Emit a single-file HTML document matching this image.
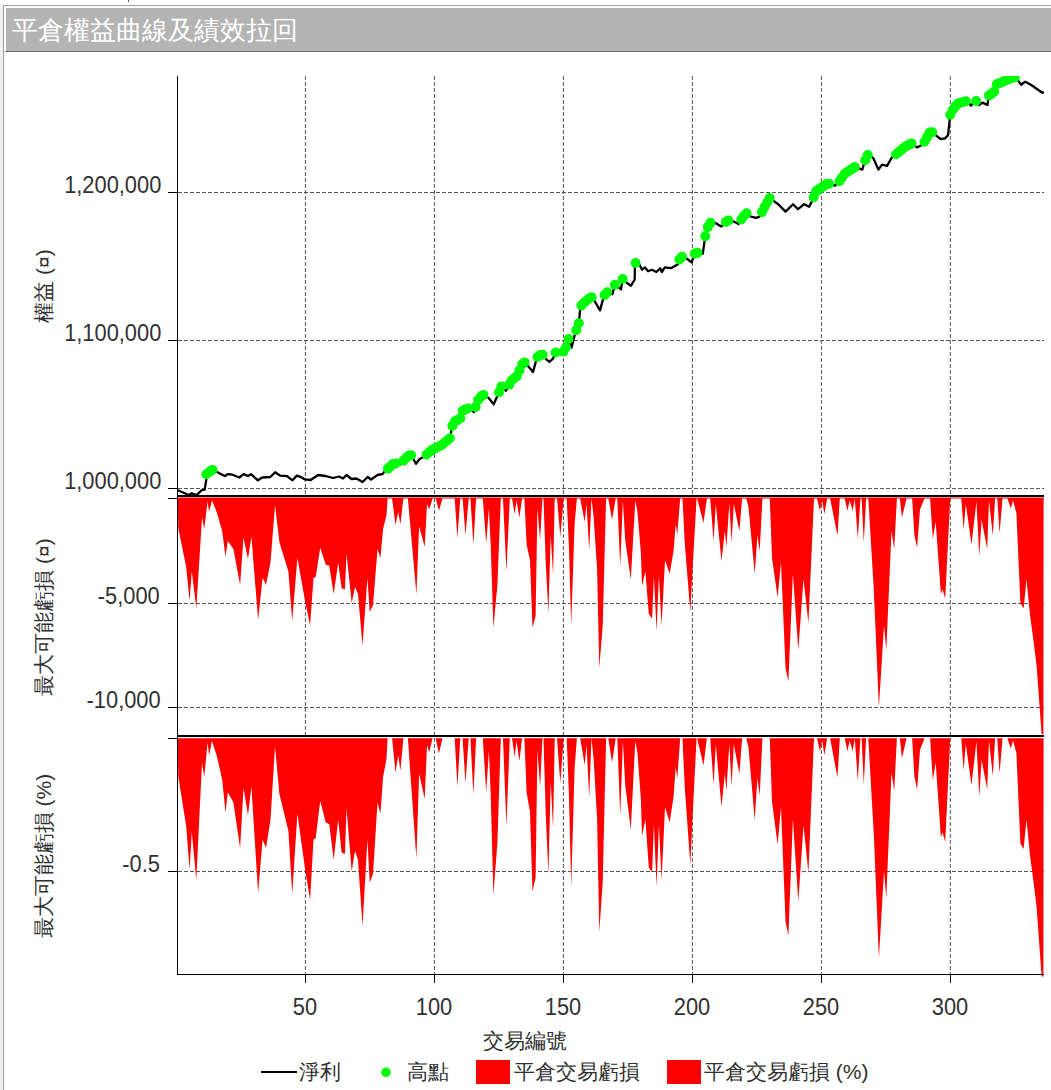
<!DOCTYPE html>
<html><head><meta charset="utf-8">
<style>
html,body{margin:0;padding:0;background:#fff;}
body{width:1051px;height:1090px;overflow:hidden;position:relative;font-family:"Liberation Sans", sans-serif;color:#303030;}
.t{position:absolute;white-space:nowrap;line-height:1;}
.num{transform:scale(1.04,1.12);transform-origin:50% 80%;}
</style></head><body>
<svg width="1051" height="1090" viewBox="0 0 1051 1090" style="position:absolute;left:0;top:0" shape-rendering="auto">
<rect x="0" y="4" width="3" height="1086" fill="#f0f0f0"/>
<rect x="3" y="5" width="1048" height="1" fill="#a0a0a0"/>
<rect x="3" y="5" width="1" height="1085" fill="#a0a0a0"/>
<rect x="6" y="8" width="1045" height="43" fill="#b4b4b4"/>
<rect x="5" y="51" width="1046" height="1" fill="#666"/>
<rect x="128" y="0" width="1" height="2" fill="#555"/>
<g stroke="#555" stroke-width="1" stroke-dasharray="4 2" fill="none">
<path d="M305.4,76V495 M305.4,498V735 M305.4,738V974"/>
<path d="M434.4,76V495 M434.4,498V735 M434.4,738V974"/>
<path d="M563.4,76V495 M563.4,498V735 M563.4,738V974"/>
<path d="M692.4,76V495 M692.4,498V735 M692.4,738V974"/>
<path d="M821.4,76V495 M821.4,498V735 M821.4,738V974"/>
<path d="M950.3,76V495 M950.3,498V735 M950.3,738V974"/>
<path d="M178,192.5H1044"/>
<path d="M178,340.5H1044"/>
<path d="M178,488.5H1044"/>
<path d="M178,603.5H1044 M178,707.5H1044 M178,871.5H1044"/>
</g>
<path d="M177.5,497.5 L177.5,498.4 L178.4,528.7 L186.2,566.9 L189.6,600.6 L191.8,571.4 L196.3,608.4 L202,517.5 L204.2,528.7 L207.6,501.7 L209.1,511.8 L212,500.6 L216.6,511.8 L222.2,530.9 L225.5,556.8 L227.8,541 L233.4,548.9 L240.1,584.8 L243.5,537.7 L248,559 L251.4,536.6 L258.1,619.7 L262.6,578.1 L266,584.8 L270.5,562.4 L275,505.1 L279.4,542.2 L288.4,571.4 L292.2,620.8 L297.4,557.9 L305.4,603 L310.1,625.3 L313.5,578.1 L315.7,577 L320.2,547.8 L325.8,564.7 L329.2,565.8 L333.7,593.9 L338.2,562.4 L341.6,588.3 L344.9,589.4 L346.5,553.4 L351.7,602.9 L355,587.1 L358,593.9 L362.5,645.6 L367.4,578.1 L369.7,611.9 L373,605.1 L377.5,548.9 L380.4,557.9 L383.1,528.7 L386.5,515.2 L387.6,498.4 L392.1,498.4 L395.5,525.3 L398.2,511.9 L400.4,524.2 L403.4,498.4 L407.9,498.4 L416.4,593.9 L419.1,526.5 L424.7,546.7 L427,504 L429.2,509.6 L432.6,498.4 L435.6,498.4 L439,510.7 L442.4,498.4 L454.7,498.4 L457.4,537.7 L460.3,498.4 L462.6,498.4 L465.5,535.4 L468.7,498.4 L470.4,498.4 L473.4,544.4 L476.1,498.4 L482.8,498.4 L486.2,543.3 L488.9,508.5 L490.7,544.4 L493.4,627.6 L497.4,584.9 L500.8,498.4 L503,498.4 L506.4,571.4 L509.8,498.4 L512,498.4 L514.7,514.1 L516.5,500.6 L519.4,517.5 L522.1,498.4 L524.4,498.4 L526.6,544.4 L530,560.2 L532.5,627.6 L535.6,616.3 L537.4,508.5 L540.1,539.9 L542.4,498.4 L543.5,498.4 L545.7,562.4 L548.4,613 L550.7,535.4 L553.1,574.8 L554.7,498.4 L557,498.4 L560.3,536.6 L563.7,498.4 L566.7,498.4 L569,548.9 L571.2,625.3 L574.6,524.2 L576.9,498.4 L580.2,498.4 L584.7,522 L586.5,504 L589.2,550 L591.5,498.4 L593.7,517.5 L597.1,569.2 L599.3,668 L602.7,625.3 L606.1,498.4 L608.3,498.4 L612.1,519.7 L615.7,498.4 L617.3,498.4 L620.2,566.9 L622.9,500.6 L625.2,540 L630.8,579.3 L635.3,500.6 L637.5,511.9 L640.9,553.4 L642,586 L645.4,571.4 L648.8,614.1 L652.1,618.6 L653.9,575.9 L656.6,631 L658.9,575.9 L661.6,625.3 L665,560.2 L669.7,573.7 L673.5,551.2 L675.7,524.2 L677.3,534.3 L680.2,498.4 L682.5,498.4 L684.7,542.2 L690.3,611.9 L693.7,548.9 L696.6,498.4 L697.2,498.4 L703.5,523.1 L706.9,498.4 L710.2,498.4 L713.6,541 L715.8,504 L721.5,561.3 L724.8,531 L726.4,546.7 L729.3,504 L731.6,542.2 L733.8,504 L739.4,531 L742.1,498.4 L746.2,498.4 L748.4,506.2 L754.7,573.7 L757.4,535.4 L759.7,551.2 L762.4,498.4 L769.8,498.4 L772,557.9 L777.6,597.2 L781,562.4 L785.5,668 L788.4,681.5 L792.9,573.7 L798.3,650.1 L803.5,579.3 L808.4,623.1 L814,498.4 L817,498.4 L819.9,510.7 L822.1,500.6 L824.4,514.1 L827.1,498.4 L830.1,498.4 L837.5,535.4 L839.8,498.4 L844.7,498.4 L847.4,510.7 L849.7,500.6 L852.6,510.7 L854.8,498.4 L857.8,538.8 L860.4,498.4 L861.6,498.4 L863.8,542.2 L866.1,498.4 L868.3,498.4 L873.9,591.6 L878.9,707.4 L884,625.3 L886.3,650.1 L891.5,531 L894.2,548.9 L896.9,498.4 L899.8,498.4 L902,517.5 L906.5,498.4 L912.1,498.4 L914.4,535.4 L917.1,547.8 L920,509.6 L924.5,498.4 L930.1,498.4 L932.8,538.8 L935.7,522 L940.9,593.9 L942.5,589.4 L945.2,598.4 L950.2,498.4 L961.3,498.4 L963.6,529.8 L965.8,504 L971.5,544.4 L976.4,501.7 L979.3,555.7 L981.6,519.7 L987.2,548.9 L989,500.6 L992.8,535.4 L995.1,498.4 L997.3,498.4 L999.6,533.2 L1002.5,498.4 L1007.4,498.4 L1010.8,508.5 L1013,500.6 L1016.4,513 L1020.4,602.9 L1023.6,608.5 L1026.5,579.3 L1029.9,614.1 L1034.4,647.8 L1036.6,665.8 L1041.6,734.3 L1043.4,734.3 L1043.6,498.4 L1044,497.5Z" fill="#ff0000"/>
<path d="M177.5,738.3 L177.5,738.3 L178.4,777.1 L186.2,826.3 L189.6,869.6 L191.8,832 L196.3,879.7 L202,762.8 L204.2,777.1 L207.6,742.5 L209.1,755.3 L212,741.1 L216.6,755.3 L222.2,779.5 L225.5,812.4 L227.8,792.3 L233.4,802.4 L240.1,848 L243.5,788.1 L248,815.2 L251.4,786.7 L258.1,892.7 L262.6,839.6 L266,848.1 L270.5,819.6 L275,746.8 L279.4,793.9 L288.4,831 L292.2,894.1 L297.4,813.8 L305.4,871.4 L310.1,899.8 L313.5,839.6 L315.7,838.1 L320.2,801 L325.8,822.5 L329.2,823.9 L333.7,859.7 L338.2,819.6 L341.6,852.5 L344.9,853.9 L346.5,808.1 L351.7,871.2 L355,851.1 L358,859.8 L362.5,925.9 L367.4,839.5 L369.7,882.6 L373,873.9 L377.5,802.4 L380.4,813.7 L383.1,776.7 L386.5,759.5 L387.6,738.3 L392.1,738.3 L395.5,772.2 L398.2,755.3 L400.4,770.8 L403.4,738.3 L407.9,738.3 L416.4,858.5 L419.1,773.6 L424.7,798.8 L427,745.3 L429.2,752.3 L432.6,738.3 L435.6,738.3 L439,753.6 L442.4,738.3 L454.7,738.3 L457.4,786.4 L460.3,738.3 L462.6,738.3 L465.5,783.3 L468.7,738.3 L470.4,738.3 L473.4,794.3 L476.1,738.3 L482.8,738.3 L486.2,792.4 L488.9,750.5 L490.7,793.9 L493.4,894.8 L497.4,842.5 L500.8,738.3 L503,738.3 L506.4,825.9 L509.8,738.3 L512,738.3 L514.7,757 L516.5,740.9 L519.4,760.9 L522.1,738.3 L524.4,738.3 L526.6,792.6 L530,811.5 L532.5,891.6 L535.6,877.4 L537.4,750.2 L540.1,787 L542.4,738.3 L543.5,738.3 L545.7,813.6 L548.4,873.4 L550.7,781.9 L553.1,828.2 L554.7,738.3 L557,738.3 L560.3,783.1 L563.7,738.3 L566.7,738.3 L569,797.1 L571.2,886.5 L574.6,768.2 L576.9,738.3 L580.2,738.3 L584.7,765.1 L586.5,744.7 L589.2,796.8 L591.5,738.3 L593.7,760 L597.1,819 L599.3,931.9 L602.7,882.4 L606.1,738.3 L608.3,738.3 L612.1,762.4 L615.7,738.3 L617.3,738.3 L620.2,815.6 L622.9,740.8 L625.2,785 L630.8,829.4 L635.3,740.7 L637.5,753.3 L640.9,799.6 L642,836 L645.4,819.6 L648.8,867.4 L652.1,872.4 L653.9,824.8 L656.6,886.4 L658.9,824.7 L661.6,880 L665,807.1 L669.7,822.2 L673.5,797.1 L675.7,767 L677.3,778.2 L680.2,738.3 L682.5,738.3 L684.7,786.8 L690.3,864.3 L693.7,794.2 L696.6,738.3 L697.2,738.3 L703.5,765.5 L706.9,738.3 L710.2,738.3 L713.6,784.5 L715.8,744.4 L721.5,806.7 L724.8,773.7 L726.4,790.7 L729.3,744.4 L731.6,785.8 L733.8,744.4 L739.4,773.7 L742.1,738.3 L746.2,738.3 L748.4,746.7 L754.7,819.8 L757.4,778.3 L759.7,795.4 L762.4,738.3 L769.8,738.3 L772,802 L777.6,844.4 L781,807.1 L785.5,921.2 L788.4,935.4 L792.9,819.2 L798.3,901.6 L803.5,825.2 L808.4,872.4 L814,738.3 L817,738.3 L819.9,751.4 L822.1,740.6 L824.4,755 L827.1,738.3 L830.1,738.3 L837.5,777.6 L839.8,738.3 L844.7,738.3 L847.4,751.3 L849.7,740.6 L852.6,751.2 L854.8,738.3 L857.8,780.8 L860.4,738.3 L861.6,738.3 L863.8,784.3 L866.1,738.3 L868.3,738.3 L873.9,835.9 L878.9,958.3 L884,871.6 L886.3,897.7 L891.5,772.4 L894.2,791.1 L896.9,738.3 L899.8,738.3 L902,758.2 L906.5,738.3 L912.1,738.3 L914.4,776.7 L917.1,789.7 L920,749.9 L924.5,738.3 L930.1,738.3 L932.8,780 L935.7,762.7 L940.9,837.2 L942.5,832.5 L945.2,841.8 L950.2,738.3 L961.3,738.3 L963.6,770.2 L965.8,744 L971.5,785.1 L976.4,741.6 L979.3,796.6 L981.6,759.9 L987.2,789.6 L989,740.5 L992.8,775.7 L995.1,738.3 L997.3,738.3 L999.6,773.3 L1002.5,738.3 L1007.4,738.3 L1010.8,748.4 L1013,740.5 L1016.4,752.9 L1020.4,843.4 L1023.6,848.9 L1026.5,819.6 L1029.9,854.6 L1034.4,888.8 L1036.6,907 L1041.6,976.5 L1043.4,976.5 L1043.6,738.3 L1044,738.3Z" fill="#ff0000"/>
<g fill="#000">
<rect x="177" y="76" width="1" height="898"/>
<rect x="177" y="495" width="867" height="2"/>
<rect x="177" y="735" width="867" height="2"/>
<rect x="177" y="974" width="867" height="1"/>
<rect x="168" y="192" width="9" height="1"/>
<rect x="168" y="340" width="9" height="1"/>
<rect x="168" y="488" width="9" height="1"/>
<rect x="168" y="498" width="9" height="1"/>
<rect x="168" y="603" width="9" height="1"/>
<rect x="168" y="707" width="9" height="1"/>
<rect x="168" y="738" width="9" height="1"/>
<rect x="168" y="871" width="9" height="1"/>
<rect x="305" y="974" width="1" height="9"/>
<rect x="434" y="974" width="1" height="9"/>
<rect x="563" y="974" width="1" height="9"/>
<rect x="692" y="974" width="1" height="9"/>
<rect x="821" y="974" width="1" height="9"/>
<rect x="950" y="974" width="1" height="9"/>
</g>
<path d="M177.5,490.2 L183.7,492.7 L188.6,495.1 L191.7,493.3 L196.6,495.1 L201.6,490.2 L204.7,489.6 L206.5,478.4 L209,472 L212.7,469.8 L217,472 L225.1,476.2 L227.6,474.1 L232.5,474.7 L239.3,477.5 L243.6,474.1 L248,476 L251,474.1 L257.9,480.3 L262.2,477.5 L270.2,477 L275.2,472.3 L280.1,475.6 L287,476.2 L292.5,480.3 L296.8,475.6 L301.2,477.2 L305,479.4 L310.7,480 L318,475 L325.5,476 L333,478 L339,476.5 L343,478.5 L346.5,475 L351.5,479 L356.5,478.5 L362.6,482 L367.6,477 L371,479.5 L377.5,475 L382.5,474 L386,470 L390,467 L394,463 L399.8,464.7 L404,460 L408,456 L411,455 L416,463.7 L419.6,459 L424.4,456.4 L431.8,450 L441.7,445 L450.4,437.8 L451.6,428 L454,421.7 L460,419 L462.8,410.6 L469,408 L474,412 L477.6,400.7 L482.6,394.5 L488.7,398 L493.7,404.4 L498.6,393 L501,386 L506,390.8 L511,381 L517,376 L521,367 L523.4,361 L528,366 L533,372 L537,357.4 L542,353.7 L545.6,358.6 L549.4,362 L553,358.6 L555.5,352.5 L560.5,353.7 L565.4,350 L568,337.6 L571.6,347.5 L575.3,332.7 L579,322.8 L580.3,306.7 L585,301.7 L591.4,296.8 L595,301.7 L600,310.4 L604,295.6 L607.5,291.9 L612.4,294.3 L615,284.4 L621,289.4 L622.8,278.2 L627.3,283.2 L631,285.7 L634.7,279.5 L634.9,262.7 L639.7,265.1 L642,269.7 L645,267.4 L648,271.2 L651.9,269.7 L656.4,272 L660.2,268.2 L661.8,272 L664.8,267.4 L670.9,268.2 L674,266.6 L677.7,264.5 L680.5,256.2 L686.7,258.6 L691.6,262.4 L695.3,252.5 L702.8,253.7 L705.2,236.4 L709,222.8 L715,222.8 L721.3,226.5 L727.5,220.3 L733.7,221.5 L738.6,224 L742.4,217.8 L746,212.9 L751,216.6 L756,217.8 L759.7,216.6 L763.4,209.2 L769.6,198 L778.2,204.2 L785.6,211.6 L793,204.2 L798,209.2 L804.2,204.2 L809.2,206.7 L812.9,199.3 L815.3,191.9 L827.7,183.2 L835,185.7 L840,180.7 L845,173.3 L855,167 L862.3,169.6 L864.8,161 L868.5,153.5 L873.5,158.5 L878.4,169.6 L882,164.6 L887,165.9 L892,157.2 L897,153.5 L906.2,146 L912.3,143 L916.9,147.5 L923,144.5 L926.8,137.6 L930.6,130.8 L935,134.6 L940.5,139 L945,138.4 L948,135.3 L949.6,120.9 L949.8,115.6 L953.4,108.7 L958,103.4 L967,101 L971,105.7 L975.5,100.3 L979.3,105 L982.3,102.6 L987.6,105 L988.4,95.8 L996,90.4 L996.2,84.4 L1003.6,81.5 L1008,79.5 L1012,77.8 L1015.5,77.3 L1016.8,78.6 L1021,84.7 L1025.2,81.8 L1030.9,84.7 L1042.3,92.8 L1043.8,92.1" fill="none" stroke="#000" stroke-width="2.3" stroke-linejoin="round"/>
<defs><clipPath id="pc"><rect x="177" y="76" width="867" height="419"/></clipPath></defs><g fill="#00fc08" clip-path="url(#pc)"><circle cx="206.3" cy="474.3" r="5"/><circle cx="209.9" cy="471.4" r="5"/><circle cx="212.5" cy="469.9" r="5"/><circle cx="387.9" cy="468.6" r="5"/><circle cx="390.5" cy="466.5" r="5"/><circle cx="393.1" cy="463.9" r="5"/><circle cx="395.7" cy="463.5" r="5"/><circle cx="403.4" cy="460.7" r="5"/><circle cx="406" cy="458" r="5"/><circle cx="408.6" cy="455.8" r="5"/><circle cx="411.1" cy="455.2" r="5"/><circle cx="426.6" cy="454.5" r="5"/><circle cx="429.2" cy="452.2" r="5"/><circle cx="431.8" cy="450" r="5"/><circle cx="434.4" cy="448.7" r="5"/><circle cx="436.9" cy="447.4" r="5"/><circle cx="439.5" cy="446.1" r="5"/><circle cx="442.1" cy="444.7" r="5"/><circle cx="444.7" cy="442.5" r="5"/><circle cx="447.3" cy="440.4" r="5"/><circle cx="449.8" cy="438.3" r="5"/><circle cx="452.4" cy="425.9" r="5"/><circle cx="455" cy="421.3" r="5"/><circle cx="457.6" cy="420.1" r="5"/><circle cx="460.2" cy="418.5" r="5"/><circle cx="462.7" cy="410.8" r="5"/><circle cx="465.3" cy="409.5" r="5"/><circle cx="467.9" cy="408.5" r="5"/><circle cx="475.6" cy="406.9" r="5"/><circle cx="478.2" cy="399.9" r="5"/><circle cx="480.8" cy="396.7" r="5"/><circle cx="483.4" cy="394.9" r="5"/><circle cx="498.9" cy="392.3" r="5"/><circle cx="501.4" cy="386.4" r="5"/><circle cx="509.2" cy="384.6" r="5"/><circle cx="511.7" cy="380.4" r="5"/><circle cx="514.3" cy="378.2" r="5"/><circle cx="516.9" cy="376.1" r="5"/><circle cx="519.5" cy="370.4" r="5"/><circle cx="522.1" cy="364.3" r="5"/><circle cx="524.6" cy="362.4" r="5"/><circle cx="537.5" cy="357" r="5"/><circle cx="540.1" cy="355.1" r="5"/><circle cx="542.7" cy="354.7" r="5"/><circle cx="555.6" cy="352.5" r="5"/><circle cx="563.3" cy="351.6" r="5"/><circle cx="565.9" cy="347.5" r="5"/><circle cx="568.5" cy="339" r="5"/><circle cx="576.2" cy="330.2" r="5"/><circle cx="578.8" cy="323.3" r="5"/><circle cx="581.4" cy="305.5" r="5"/><circle cx="584" cy="302.8" r="5"/><circle cx="586.6" cy="300.5" r="5"/><circle cx="589.1" cy="298.5" r="5"/><circle cx="591.7" cy="297.2" r="5"/><circle cx="604.6" cy="295" r="5"/><circle cx="607.2" cy="292.2" r="5"/><circle cx="614.9" cy="284.7" r="5"/><circle cx="622.7" cy="279" r="5"/><circle cx="635.6" cy="263" r="5"/><circle cx="679.4" cy="259.4" r="5"/><circle cx="682" cy="256.8" r="5"/><circle cx="694.9" cy="253.6" r="5"/><circle cx="697.5" cy="252.8" r="5"/><circle cx="705.2" cy="236.3" r="5"/><circle cx="707.8" cy="227.1" r="5"/><circle cx="710.4" cy="222.8" r="5"/><circle cx="725.9" cy="221.9" r="5"/><circle cx="728.4" cy="220.5" r="5"/><circle cx="741.3" cy="219.5" r="5"/><circle cx="743.9" cy="215.7" r="5"/><circle cx="746.5" cy="213.3" r="5"/><circle cx="762" cy="212.1" r="5"/><circle cx="764.5" cy="207.1" r="5"/><circle cx="767.1" cy="202.5" r="5"/><circle cx="769.7" cy="198.1" r="5"/><circle cx="813.6" cy="197.3" r="5"/><circle cx="816.1" cy="191.3" r="5"/><circle cx="818.7" cy="189.5" r="5"/><circle cx="821.3" cy="187.7" r="5"/><circle cx="823.9" cy="185.9" r="5"/><circle cx="826.5" cy="184.1" r="5"/><circle cx="829" cy="183.7" r="5"/><circle cx="839.4" cy="181.3" r="5"/><circle cx="841.9" cy="177.8" r="5"/><circle cx="844.5" cy="174" r="5"/><circle cx="847.1" cy="172" r="5"/><circle cx="849.7" cy="170.4" r="5"/><circle cx="852.3" cy="168.7" r="5"/><circle cx="854.8" cy="167.1" r="5"/><circle cx="865.2" cy="160.3" r="5"/><circle cx="867.7" cy="155.1" r="5"/><circle cx="896.1" cy="154.2" r="5"/><circle cx="898.7" cy="152.1" r="5"/><circle cx="901.3" cy="150" r="5"/><circle cx="903.8" cy="147.9" r="5"/><circle cx="906.4" cy="145.9" r="5"/><circle cx="909" cy="144.6" r="5"/><circle cx="911.6" cy="143.4" r="5"/><circle cx="924.5" cy="141.8" r="5"/><circle cx="927.1" cy="137.1" r="5"/><circle cx="929.6" cy="132.5" r="5"/><circle cx="932.2" cy="132.2" r="5"/><circle cx="950.3" cy="114.7" r="5"/><circle cx="952.9" cy="109.7" r="5"/><circle cx="955.4" cy="106.4" r="5"/><circle cx="958" cy="103.4" r="5"/><circle cx="960.6" cy="102.7" r="5"/><circle cx="963.2" cy="102" r="5"/><circle cx="965.8" cy="101.3" r="5"/><circle cx="976.1" cy="101" r="5"/><circle cx="989" cy="95.4" r="5"/><circle cx="991.6" cy="93.6" r="5"/><circle cx="994.1" cy="91.7" r="5"/><circle cx="996.7" cy="84.2" r="5"/><circle cx="999.3" cy="83.2" r="5"/><circle cx="1001.9" cy="82.2" r="5"/><circle cx="1004.5" cy="81.1" r="5"/><circle cx="1007" cy="79.9" r="5"/><circle cx="1009.6" cy="78.8" r="5"/><circle cx="1012.2" cy="77.8" r="5"/><circle cx="1014.8" cy="77.4" r="5"/></g>
<rect x="261" y="1071" width="36" height="2" fill="#000"/>
<circle cx="386" cy="1072.3" r="4.8" fill="#00fc08"/>
<rect x="476" y="1060" width="34" height="24" fill="#ff0000"/>
<rect x="667" y="1060" width="34" height="24" fill="#ff0000"/>
</svg>
<div class="t" style="left:12px;top:17px;font-size:26px;color:#fff;">平倉權益曲線及績效拉回</div>
<div class="t num" style="right:892px;top:175px;font-size:21px;">1,200,000</div>
<div class="t num" style="right:892px;top:323px;font-size:21px;">1,100,000</div>
<div class="t num" style="right:892px;top:471px;font-size:21px;">1,000,000</div>
<div class="t num" style="right:892px;top:586px;font-size:21px;">-5,000</div>
<div class="t num" style="right:892px;top:690px;font-size:21px;">-10,000</div>
<div class="t num" style="right:892px;top:854px;font-size:21px;">-0.5</div>
<div class="t num" style="left:255.39999999999998px;width:100px;text-align:center;top:997px;font-size:21px;">50</div>
<div class="t num" style="left:384.4px;width:100px;text-align:center;top:997px;font-size:21px;">100</div>
<div class="t num" style="left:513.4px;width:100px;text-align:center;top:997px;font-size:21px;">150</div>
<div class="t num" style="left:642.4px;width:100px;text-align:center;top:997px;font-size:21px;">200</div>
<div class="t num" style="left:771.4px;width:100px;text-align:center;top:997px;font-size:21px;">250</div>
<div class="t num" style="left:900.3px;width:100px;text-align:center;top:997px;font-size:21px;">300</div>
<div class="t" style="left:483px;top:1030px;font-size:21px;">交易編號</div>
<div class="t" style="left:299px;top:1061px;font-size:21px;">淨利</div>
<div class="t" style="left:407px;top:1061px;font-size:21px;">高點</div>
<div class="t" style="left:514px;top:1061px;font-size:21px;">平倉交易虧損</div>
<div class="t" style="left:704px;top:1061px;font-size:21px;">平倉交易虧損 (%)</div>
<div class="t" style="left:42.5px;top:286px;font-size:21px;transform:translate(-50%,-50%) rotate(-90deg);">權益 (¤)</div>
<div class="t" style="left:42.5px;top:617px;font-size:21px;transform:translate(-50%,-50%) rotate(-90deg);">最大可能虧損 (¤)</div>
<div class="t" style="left:42.5px;top:856px;font-size:21px;transform:translate(-50%,-50%) rotate(-90deg);">最大可能虧損 (%)</div>
</body></html>
